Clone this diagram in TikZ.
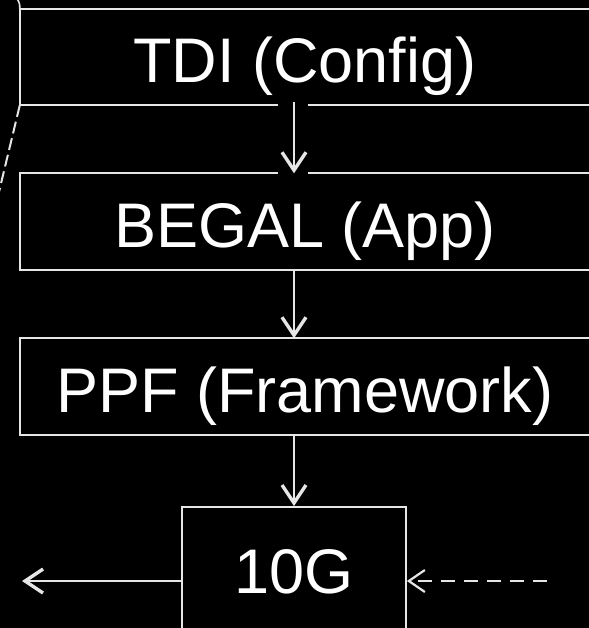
\documentclass[tikz,border=0pt]{standalone}
\usepackage{fontspec}
\setmainfont{Liberation Sans}
\usetikzlibrary{arrows.meta,calc}
\definecolor{edge}{HTML}{E6E6E6}
\tikzset{
  layer/.style={text=white, inner sep=0pt,
    minimum width=580pt, minimum height=96pt, text height=51pt, text depth=0pt,
    font=\fontsize{63}{70}\selectfont},
  rim/.style={draw=edge, line width=1.8pt, line join=miter},
  chip/.style={draw=edge, line width=1.8pt, fill=black, text=white, inner sep=0pt,
    minimum width=224pt, minimum height=148pt, text height=24pt, text depth=0pt,
    font=\fontsize{63}{70}\selectfont},
  flow/.style={draw=edge, line width=1.6pt,
    -{Straight Barb[length=18pt,width=24pt,line width=3.4pt]}},
  dashflow/.style={flow, line width=2.8pt, dash pattern=on 14pt off 9pt,
    -{Straight Barb[length=16pt,width=22pt,line width=2.2pt]}},
  skew/.style={draw=edge, line width=2pt, dash pattern=on 12pt off 5pt}
}
\begin{document}
\begin{tikzpicture}[x=1pt,y=-1pt]
\fill[black] (-20,-20) rectangle (620,660);
\node[layer] (tdi) at (310,57) {\kern-10pt TDI (Config)};
\node[layer] (begal) at (310,221.5) {\kern-10pt BEGAL (App)};
\node[layer] (ppf) at (310,386.5) {\kern-10pt PPF (Framework)};
\foreach \b in {tdi,begal,ppf}
  \draw[rim] (\b.north east) -- (\b.north west) -- (\b.south west) -- (\b.south east);
\node[chip] (tg) at (294,581) {10G};
\coordinate (outL) at (22,581);
\coordinate (inR) at (547,581);
\coordinate (skewEnd) at (-2,196);
% gaps in the edges where the first connector meets them
\fill[black] ($(tdi.south -| tg.north)+(-16,-2)$) rectangle ($(tdi.south -| tg.north)+(14,2)$);
\fill[black] ($(begal.north -| tg.north)+(-16,-2)$) rectangle ($(begal.north -| tg.north)+(14,2)$);
\draw[flow] ([yshift=3pt]tdi.south -| tg.north) -- (begal.north -| tg.north);
\draw[flow] (begal.south -| tg.north) -- (ppf.north -| tg.north);
\draw[flow] (ppf.south -| tg.north) -- (tg.north);
\draw[flow] (tg.west) -- (outL);
\draw[dashflow] (inR) -- (tg.east);
\draw[draw=edge, line width=1.6pt] (tdi.north west) .. controls ($(tdi.north west)+(0,-5)$) .. ($(tdi.north west)+(-3,-11)$);
\draw[skew] (tdi.south west) -- (skewEnd);
\pgfresetboundingbox
\useasboundingbox (0,0) rectangle (588,628);
\end{tikzpicture}
\end{document}
